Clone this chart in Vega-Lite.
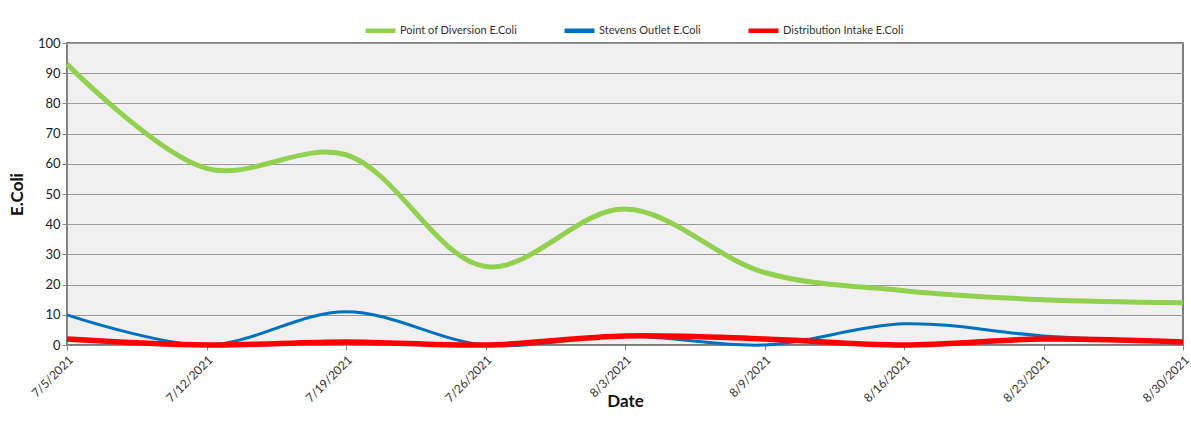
{
  "$schema": "https://vega.github.io/schema/vega-lite/v6.json",
  "autosize": "none",
  "width": 1116,
  "height": 302,
  "padding": {"left": 67, "top": 43, "right": 8, "bottom": 88},
  "background": "white",
  "config": {
    "font": "Lato",
    "view": {"fill": "#f0f0f0", "stroke": "#555555", "strokeWidth": 1.5}
  },
  "data": {
    "values": [
      {"date": "7/5/2021", "series": "Point of Diversion E.Coli", "ecoli": 93},
      {"date": "7/12/2021", "series": "Point of Diversion E.Coli", "ecoli": 58.5},
      {"date": "7/19/2021", "series": "Point of Diversion E.Coli", "ecoli": 63},
      {"date": "7/26/2021", "series": "Point of Diversion E.Coli", "ecoli": 26},
      {"date": "8/3/2021", "series": "Point of Diversion E.Coli", "ecoli": 45},
      {"date": "8/9/2021", "series": "Point of Diversion E.Coli", "ecoli": 24},
      {"date": "8/16/2021", "series": "Point of Diversion E.Coli", "ecoli": 18},
      {"date": "8/23/2021", "series": "Point of Diversion E.Coli", "ecoli": 15},
      {"date": "8/30/2021", "series": "Point of Diversion E.Coli", "ecoli": 14},
      {"date": "7/5/2021", "series": "Stevens Outlet E.Coli", "ecoli": 10},
      {"date": "7/12/2021", "series": "Stevens Outlet E.Coli", "ecoli": 0},
      {"date": "7/19/2021", "series": "Stevens Outlet E.Coli", "ecoli": 11},
      {"date": "7/26/2021", "series": "Stevens Outlet E.Coli", "ecoli": 0},
      {"date": "8/3/2021", "series": "Stevens Outlet E.Coli", "ecoli": 3},
      {"date": "8/9/2021", "series": "Stevens Outlet E.Coli", "ecoli": 0},
      {"date": "8/16/2021", "series": "Stevens Outlet E.Coli", "ecoli": 7},
      {"date": "8/23/2021", "series": "Stevens Outlet E.Coli", "ecoli": 3},
      {"date": "8/30/2021", "series": "Stevens Outlet E.Coli", "ecoli": 1},
      {"date": "7/5/2021", "series": "Distribution Intake E.Coli", "ecoli": 2},
      {"date": "7/12/2021", "series": "Distribution Intake E.Coli", "ecoli": 0},
      {"date": "7/19/2021", "series": "Distribution Intake E.Coli", "ecoli": 1},
      {"date": "7/26/2021", "series": "Distribution Intake E.Coli", "ecoli": 0},
      {"date": "8/3/2021", "series": "Distribution Intake E.Coli", "ecoli": 3},
      {"date": "8/9/2021", "series": "Distribution Intake E.Coli", "ecoli": 2},
      {"date": "8/16/2021", "series": "Distribution Intake E.Coli", "ecoli": 0},
      {"date": "8/23/2021", "series": "Distribution Intake E.Coli", "ecoli": 2},
      {"date": "8/30/2021", "series": "Distribution Intake E.Coli", "ecoli": 1}
    ]
  },
  "encoding": {
    "x": {
      "field": "date",
      "type": "ordinal",
      "sort": null,
      "scale": {"type": "point", "padding": 0},
      "axis": {
        "title": "Date",
        "titleFontSize": 17,
        "titleFontWeight": "bold",
        "titleColor": "#111111",
        "titleY": 48,
        "titleBaseline": "top",
        "labelAngle": -45,
        "labelFontSize": 12,
        "labelColor": "#333333",
        "labelPadding": 4,
        "domainColor": "#888888",
        "tickColor": "#888888",
        "tickSize": 5,
        "grid": false
      }
    },
    "y": {
      "field": "ecoli",
      "type": "quantitative",
      "scale": {"domain": [0, 100], "nice": false},
      "axis": {
        "title": "E.Coli",
        "titleFontSize": 17,
        "titleFontWeight": "bold",
        "titleColor": "#111111",
        "titlePadding": 11,
        "values": [0, 10, 20, 30, 40, 50, 60, 70, 80, 90, 100],
        "labelFontSize": 13,
        "labelColor": "#222222",
        "domainColor": "#888888",
        "tickColor": "#888888",
        "tickSize": 5,
        "gridColor": "#999999",
        "gridWidth": 1.2
      }
    },
    "color": {
      "field": "series",
      "type": "nominal",
      "scale": {
        "domain": ["Point of Diversion E.Coli", "Stevens Outlet E.Coli", "Distribution Intake E.Coli"],
        "range": ["#92d050", "#0070c0", "#ff0000"]
      },
      "legend": {
        "title": null,
        "orient": "none",
        "direction": "horizontal",
        "legendX": 296,
        "legendY": -30,
        "symbolType": "stroke",
        "symbolStrokeWidth": 4.5,
        "symbolSize": 900,
        "labelFontSize": 11,
        "labelColor": "#333333",
        "labelOffset": 2,
        "columnPadding": 38
      }
    }
  },
  "layer": [
    {
      "transform": [{"filter": "datum.series === 'Point of Diversion E.Coli'"}],
      "mark": {"type": "line", "interpolate": "catmull-rom", "clip": false, "strokeWidth": 5}
    },
    {
      "transform": [{"filter": "datum.series === 'Stevens Outlet E.Coli'"}],
      "mark": {"type": "line", "interpolate": "catmull-rom", "clip": false, "strokeWidth": 3}
    },
    {
      "transform": [{"filter": "datum.series === 'Distribution Intake E.Coli'"}],
      "mark": {"type": "line", "interpolate": "catmull-rom", "clip": false, "strokeWidth": 5.5}
    }
  ]
}
